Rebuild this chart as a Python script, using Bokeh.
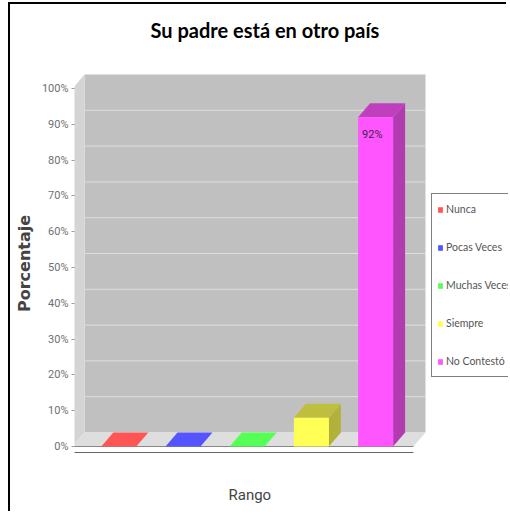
from bokeh.plotting import figure
from bokeh.models import Range1d, FixedTicker, PrintfTickFormatter, Legend, LegendItem, Title
from bokeh.core.properties import value
from bokeh.embed import file_html
from bokeh.resources import INLINE

# ---- data ----
title_text = "Su padre está en otro país"
categories = ["Nunca", "Pocas Veces", "Muchas Veces", "Siempre", "No Contestó"]
percentages = [0, 0, 0, 8, 92]
colors = ["#ff5555", "#5555ff", "#55ff55", "#ffff55", "#ff55ff"]
y_ticks = [0, 10, 20, 30, 40, 50, 60, 70, 80, 90, 100]
x_label = "Rango"
y_label = "Porcentaje"

# ---- layout constants (pixels -> data units) ----
PX_X = 64.2          # px per category step
PX_Y = 3.58          # px per percent
DX = 12 / PX_X       # 3D depth offset, x
DY = 14 / PX_Y       # 3D depth offset, y
BAR_W = 35 / PX_X
X0, X1 = -0.72, 4.59  # front floor extent
YMAX = 100
AXIS_Y = -6 / PX_Y    # domain axis line, below the floor front edge

W, H = 498, 509
ML, MT, MB = 64, 66, 57
FRAME_W = W - ML
FRAME_H = H - MT - MB

NARROW = "Roboto"


def darker(hexcol, f=0.7):
    r, g, b = (int(hexcol[i:i + 2], 16) for i in (1, 3, 5))
    return "#%02x%02x%02x" % (int(r * f), int(g * f), int(b * f))


y_top = YMAX + 18 / PX_Y
y_bot = y_top - FRAME_H / PX_Y
p = figure(width=W, height=H, output_backend="svg", toolbar_location=None,
           x_range=Range1d(X0 + 0.03, X0 + 0.03 + FRAME_W / PX_X), y_range=Range1d(y_bot, y_top),
           min_border_left=ML, min_border_right=0, min_border_top=MT, min_border_bottom=MB)
p.styles = {"margin-left": "8px", "margin-top": "2px",
            "border-left": "2px solid #000", "border-top": "2px solid #000"}
p.background_fill_color = "white"
p.border_fill_color = "white"
p.outline_line_color = None
p.grid.visible = False

# spacer (nearest the frame) + title above it
p.add_layout(Title(text=" ", text_font_size="1px", standoff=26), "above")
p.add_layout(Title(text=title_text, text_font="Lato", text_font_size="20px",
                   text_font_style="bold", text_color="#000000", align="left",
                   offset=76, standoff=0), "above")

# x axis label as a title below the frame, after a spacer
p.xaxis.visible = False
p.add_layout(Title(text=" ", text_font_size="1px", standoff=24), "below")
p.add_layout(Title(text=x_label, text_font=NARROW, text_font_size="15px",
                   text_font_style="normal", text_color="#444444", align="left",
                   offset=154, standoff=0), "below")

# y axis
ya = p.yaxis[0]
ya.ticker = FixedTicker(ticks=y_ticks)
ya.formatter = PrintfTickFormatter(format="%d%%")
ya.axis_line_color = None
ya.major_tick_in = 0
ya.major_tick_out = 3
ya.major_tick_line_color = "#999999"
ya.minor_tick_line_color = None
ya.major_label_standoff = 3
ya.major_label_text_font = NARROW
ya.major_label_text_font_size = "11px"
ya.major_label_text_color = "#707070"
ya.axis_label = y_label
ya.axis_label_text_font = "DejaVu Sans"
ya.axis_label_text_font_style = "bold"
ya.axis_label_text_font_size = "16px"
ya.axis_label_text_color = "#444444"
ya.axis_label_standoff = 5

# ---- 3D walls ----
p.quad(left=[X0 + DX], right=[X1 + DX], bottom=[DY], top=[YMAX + DY],
       fill_color="#c0c0c0", line_color=None)
grid_y = [t + DY for t in y_ticks if t > 0]
p.segment(x0=[X0 + DX] * len(grid_y), x1=[X1 + DX] * len(grid_y), y0=grid_y, y1=grid_y,
          line_color="#dedede", line_width=1)
p.patch([X0, X0 + DX, X0 + DX, X0], [0, DY, YMAX + DY, YMAX],
        fill_color="#d4d4d4", line_color=None)
p.patch([X0, X1, X1 + DX, X0 + DX], [0, 0, DY, DY],
        fill_color="#dedede", line_color=None)
p.segment(x0=[X0], x1=[X1], y0=[0], y1=[0], line_color="#888888", line_width=1)
p.segment(x0=[X0], x1=[X1], y0=[AXIS_Y], y1=[AXIS_Y], line_color="#666666", line_width=1)

# ---- bars ----
items = []
for i, (cat, v, col) in enumerate(zip(categories, percentages, colors)):
    l, r = i - BAR_W / 2, i + BAR_W / 2
    dcol = darker(col)
    p.patch([r, r + DX, r + DX, r], [0, DY, v + DY, v], fill_color=dcol, line_color=None)
    top_col = col if v == 0 else darker(col, 0.75)
    p.patch([l, r, r + DX, l + DX], [v, v, v + DY, v + DY], fill_color=top_col, line_color=None)
    front = p.quad(left=[l], right=[r], bottom=[0], top=[v], fill_color=col, line_color=None)
    items.append(LegendItem(label=cat, renderers=[front]))

lab_x = [i - BAR_W / 2 + 4 / PX_X for i, v in enumerate(percentages) if v >= 20]
lab_y = [v - 3.0 for v in percentages if v >= 20]
lab_t = ["%d%%" % v for v in percentages if v >= 20]
p.text(x=lab_x, y=lab_y, text=lab_t, text_font=value(NARROW), text_font_size="11px",
       text_color="#442244", text_baseline="top", text_align="left")

legend = Legend(items=items, location=(357, 79))
legend.border_line_color = "#000000"
legend.border_line_width = 1
legend.background_fill_color = "white"
legend.background_fill_alpha = 1
legend.padding = 5
legend.spacing = 18
legend.margin = 0
legend.label_height = 20
legend.glyph_height = 7
legend.glyph_width = 6
legend.label_standoff = 3
legend.label_text_font = "Lato"
legend.label_text_font_size = "10.5px"
legend.label_text_color = "#555555"
p.add_layout(legend, "center")

open("out.html", "w").write(file_html(p, INLINE))
